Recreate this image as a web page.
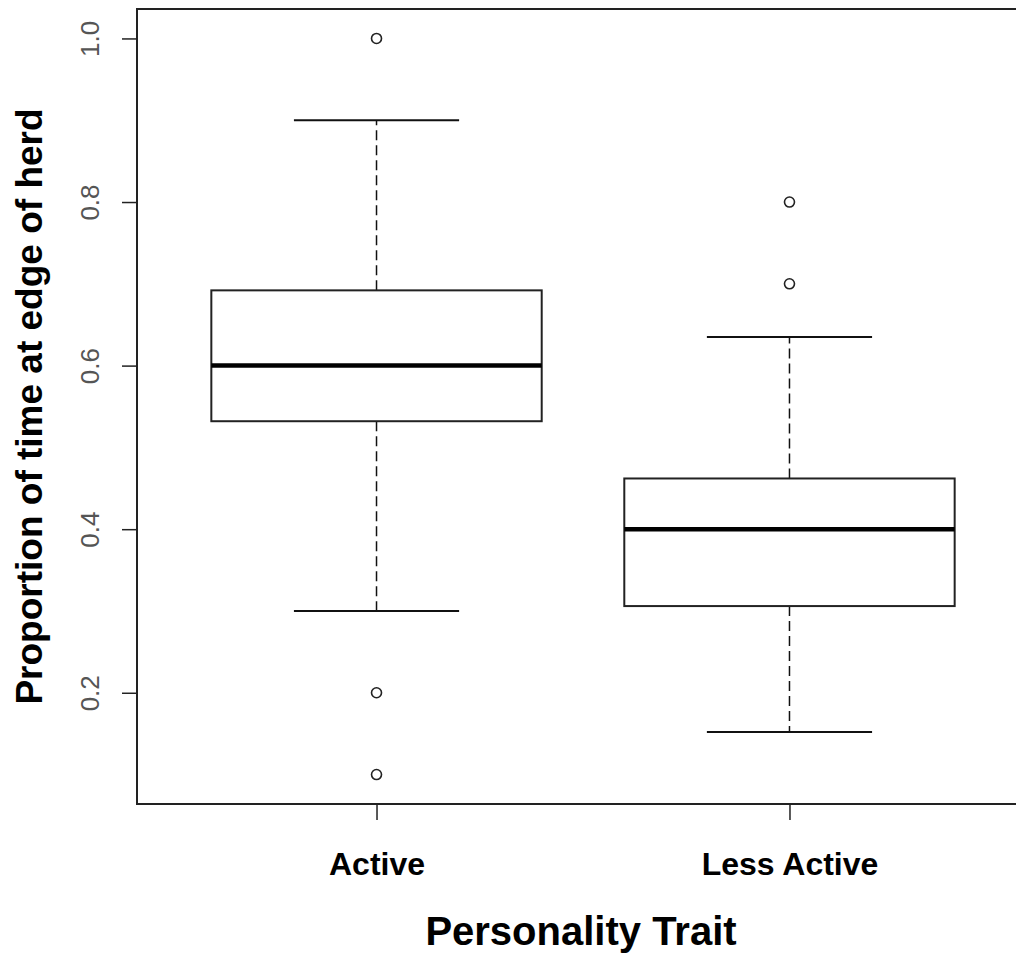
<!DOCTYPE html>
<html>
<head>
<meta charset="utf-8">
<script src="https://cdn.jsdelivr.net/npm/d3@7"></script>
<style>
  body { margin: 0; background: #fff; }
  text { font-family: 'Liberation Sans', Arial, sans-serif; }
</style>
</head>
<body>
<div id="chart"></div>
<script>
// values
const categories = ['Active', 'Less Active']
const lowerWhisker = [0.3, 0.152]
const q1 = [0.532, 0.306]
const median = [0.6, 0.4]
const q3 = [0.692, 0.462]
const upperWhisker = [0.9, 0.635]
const outliers = [[1.0, 0.2, 0.1], [0.8, 0.7]]
const yTicks = [0.2, 0.4, 0.6, 0.8, 1.0]

const width = 1016
const height = 953

const plot = { left: 137, top: 9, bottom: 804, right: 1029 }

const svg = d3
  .select('#chart')
  .append('svg')
  .attr('width', width)
  .attr('height', height)

// R style: x from 0.5 to n + 0.5, padded by 4%
const xScale = d3
  .scaleLinear()
  .domain([0.42, 2.58])
  .range([plot.left, plot.right])

const yScale = d3
  .scaleLinear()
  .domain([0.064, 1.036])
  .range([plot.bottom, plot.top])

const boxes = categories.map((c, i) => ({
  name: c,
  pos: i + 1,
  lo: lowerWhisker[i],
  q1: q1[i],
  med: median[i],
  q3: q3[i],
  hi: upperWhisker[i],
  out: outliers[i]
}))

const g = svg.append('g')

// dashed whiskers
g.selectAll('.whisker-up')
  .data(boxes)
  .enter()
  .append('line')
  .attr('x1', d => xScale(d.pos))
  .attr('x2', d => xScale(d.pos))
  .attr('y1', d => yScale(d.q3))
  .attr('y2', d => yScale(d.hi))
  .attr('stroke', '#111')
  .attr('stroke-width', 1.5)
  .attr('stroke-dasharray', '10,5')

g.selectAll('.whisker-down')
  .data(boxes)
  .enter()
  .append('line')
  .attr('x1', d => xScale(d.pos))
  .attr('x2', d => xScale(d.pos))
  .attr('y1', d => yScale(d.q1))
  .attr('y2', d => yScale(d.lo))
  .attr('stroke', '#111')
  .attr('stroke-width', 1.5)
  .attr('stroke-dasharray', '10,5')

// whisker caps (half the box width)
const capHalf = 0.2
const boxHalf = 0.4

g.selectAll('.cap')
  .data(boxes.flatMap(d => [{ pos: d.pos, v: d.lo }, { pos: d.pos, v: d.hi }]))
  .enter()
  .append('line')
  .attr('x1', d => xScale(d.pos - capHalf))
  .attr('x2', d => xScale(d.pos + capHalf))
  .attr('y1', d => yScale(d.v))
  .attr('y2', d => yScale(d.v))
  .attr('stroke', '#111')
  .attr('stroke-width', 2)

// boxes
g.selectAll('.box')
  .data(boxes)
  .enter()
  .append('rect')
  .attr('x', d => xScale(d.pos - boxHalf))
  .attr('width', d => xScale(d.pos + boxHalf) - xScale(d.pos - boxHalf))
  .attr('y', d => yScale(d.q3))
  .attr('height', d => yScale(d.q1) - yScale(d.q3))
  .attr('fill', 'white')
  .attr('stroke', '#222')
  .attr('stroke-width', 2)

// medians
g.selectAll('.median')
  .data(boxes)
  .enter()
  .append('line')
  .attr('x1', d => xScale(d.pos - boxHalf))
  .attr('x2', d => xScale(d.pos + boxHalf))
  .attr('y1', d => yScale(d.med))
  .attr('y2', d => yScale(d.med))
  .attr('stroke', '#000')
  .attr('stroke-width', 4.5)

// outliers
g.selectAll('.outlier')
  .data(boxes.flatMap(d => d.out.map(v => ({ pos: d.pos, v: v }))))
  .enter()
  .append('circle')
  .attr('cx', d => xScale(d.pos))
  .attr('cy', d => yScale(d.v))
  .attr('r', 5)
  .attr('fill', 'none')
  .attr('stroke', '#222')
  .attr('stroke-width', 1.6)

// frame
svg.append('rect')
  .attr('x', plot.left)
  .attr('y', plot.top)
  .attr('width', plot.right - plot.left)
  .attr('height', plot.bottom - plot.top)
  .attr('fill', 'none')
  .attr('stroke', '#222')
  .attr('stroke-width', 2)

// y axis
const yAxis = d3
  .axisLeft(yScale)
  .tickValues(yTicks)
  .tickSize(15)
  .tickFormat(d3.format('.1f'))

const yAxisG = svg
  .append('g')
  .attr('class', 'axis y-axis')
  .attr('transform', 'translate(' + plot.left + ',0)')
  .call(yAxis)

yAxisG.select('.domain').remove()
yAxisG.selectAll('line').attr('stroke', '#222').attr('stroke-width', 1.5)
yAxisG
  .selectAll('text')
  .attr('transform', 'rotate(-90)')
  .attr('x', 0)
  .attr('y', -38)
  .attr('dy', 0)
  .attr('text-anchor', 'middle')
  .attr('fill', '#555')
  .style('font-size', '26px')
  .style('font-family', "'Liberation Sans', Arial, sans-serif")

// x axis
const xAxis = d3
  .axisBottom(xScale)
  .tickValues([1, 2])
  .tickSize(16)
  .tickFormat(d => categories[d - 1])

const xAxisG = svg
  .append('g')
  .attr('class', 'axis x-axis')
  .attr('transform', 'translate(0,' + plot.bottom + ')')
  .call(xAxis)

xAxisG.select('.domain').remove()
xAxisG.selectAll('line').attr('stroke', '#222').attr('stroke-width', 1.5)
xAxisG
  .selectAll('text')
  .attr('y', 71)
  .attr('dy', 0)
  .attr('fill', '#000')
  .style('font-size', '32px')
  .style('font-weight', 'bold')
  .style('font-family', "'Liberation Sans', Arial, sans-serif")

// axis titles
svg.append('text')
  .attr('x', 581)
  .attr('y', 945)
  .attr('text-anchor', 'middle')
  .style('font-size', '40px')
  .style('font-weight', 'bold')
  .text('Personality Trait')

svg.append('text')
  .attr('transform', 'translate(42,' + (plot.top + plot.bottom) / 2 + ') rotate(-90)')
  .attr('text-anchor', 'middle')
  .style('font-size', '37px')
  .style('font-weight', 'bold')
  .text('Proportion of time at edge of herd')
</script>
</body>
</html>
